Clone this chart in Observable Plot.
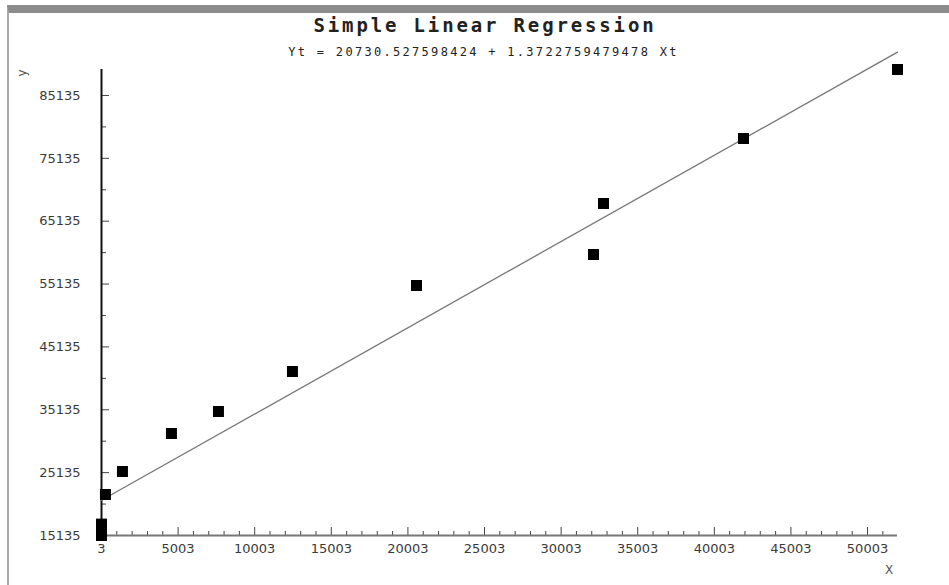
<!DOCTYPE html>
<html><head><meta charset="utf-8">
<script src="https://cdn.jsdelivr.net/npm/d3@7"></script>
<script src="https://cdn.jsdelivr.net/npm/@observablehq/plot@0.6"></script>
<style>
body{margin:0;background:#fff;}
#wrap{position:relative;width:949px;height:585px;overflow:hidden;background:#fff;}
#frame{position:absolute;left:7px;top:5px;right:0;bottom:0;border-top:8px solid #8c8c8c;border-left:2px solid #a8a8a8;pointer-events:none;z-index:5;}
#head{position:relative;height:62px;font-family:"DejaVu Sans Mono",monospace;}
#title{position:absolute;left:0;width:970px;top:12px;text-align:center;font-size:19px;line-height:26px;letter-spacing:2.85px;color:#222;font-weight:bold;white-space:nowrap;}
#subtitle{position:absolute;left:0;width:967px;top:44px;text-align:center;font-size:12px;line-height:16px;letter-spacing:2.3px;color:#222;white-space:nowrap;}
.axlab{position:absolute;font-family:"DejaVu Sans",sans-serif;font-size:12px;color:#555;z-index:4;}
#ylab{left:18px;top:66px;transform:rotate(-90deg);}
#xlab{left:885px;top:563px;}
</style></head>
<body>
<div id="wrap">
  <div id="frame"></div>
  <div id="head">
    <div id="title">Simple Linear Regression</div>
    <div id="subtitle">Yt = 20730.527598424 + 1.3722759479478 Xt</div>
  </div>
  <div id="chart"></div>
  <span class="axlab" id="ylab">y</span>
  <span class="axlab" id="xlab">X</span>
</div>
<script>
const xValues = [3, 3, 3, 260, 1371, 4569, 7637, 12467, 20564, 32118, 32771, 41909, 51960];
const yValues = [15135, 16000, 16950, 21657, 25316, 31362, 34861, 41225, 54906, 59838, 67951, 78291, 89268];
const xTickValues = [3, 5003, 10003, 15003, 20003, 25003, 30003, 35003, 40003, 45003, 50003];
const xMinorTicks = [1003, 2003, 3003, 4003, 6003, 7003, 8003, 9003, 11003, 12003, 13003, 14003,
  16003, 17003, 18003, 19003, 21003, 22003, 23003, 24003, 26003, 27003, 28003, 29003,
  31003, 32003, 33003, 34003, 36003, 37003, 38003, 39003, 41003, 42003, 43003, 44003,
  46003, 47003, 48003, 49003, 51003];
const yTickValues = [15135, 25135, 35135, 45135, 55135, 65135, 75135, 85135];
const yMinorTicks = [20135, 30135, 40135, 50135, 60135, 70135, 80135];
const intercept = 20730.527598424;
const slope = 1.3722759479478;
const lineX = [3, 51960];

const points = xValues.map((x, i) => ({x, y: yValues[i]}));
const fitted = lineX.map(x => ({x, y: intercept + slope * x}));

const chart = Plot.plot({
  width: 949, height: 523,
  marginLeft: 101, marginRight: 52, marginTop: 7, marginBottom: 50,
  style: {fontFamily: "DejaVu Sans", fontSize: "13px", color: "#3a3a3a", overflow: "visible", background: "transparent"},
  x: {domain: [3, 51960], ticks: xTickValues, tickFormat: d3.format("d"), tickSize: 0, tickPadding: 8, label: null},
  y: {domain: [15135, 89268], ticks: yTickValues, tickFormat: d3.format("d"), tickSize: 0, tickPadding: 21, label: null},
  marks: [
    Plot.tickX(xMinorTicks, {x: d => d, insetTop: 462, stroke: "#444"}),
    Plot.tickX(xTickValues, {x: d => d, insetTop: 458, stroke: "#444"}),
    Plot.tickY(yMinorTicks, {y: d => d, insetRight: 791, stroke: "#444"}),
    Plot.tickY(yTickValues, {y: d => d, insetRight: 788, stroke: "#444"}),
    Plot.ruleY([15135], {stroke: "#777", strokeWidth: 2}),
    Plot.ruleX([3], {stroke: "#111", strokeWidth: 2}),
    Plot.line(fitted, {x: "x", y: "y", stroke: "#777", strokeWidth: 1.3}),
    Plot.dot(points, {x: "x", y: "y", symbol: "square", r: 6.2, fill: "#000"})
  ]
});
document.getElementById("chart").appendChild(chart);
</script>
</body></html>
